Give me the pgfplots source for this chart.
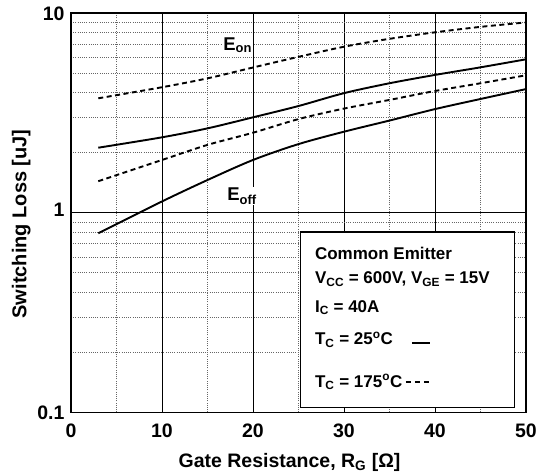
\documentclass[border=0pt]{standalone}
\usepackage{pgfplots}
\pgfplotsset{compat=1.18}
\usepackage{fontspec}
\setmainfont{Liberation Sans}

% switching loss vs gate resistance
\pgfplotstableread{
x   y
3   2.12
10  2.39
15  2.65
20  3.01
25  3.43
30  3.98
35  4.46
40  4.91
45  5.36
50  5.88
}\eonlow
\pgfplotstableread{
x   y
3   3.75
10  4.26
15  4.72
20  5.35
25  6.05
30  6.80
35  7.45
40  8.03
45  8.55
50  9.00
}\eonhigh
\pgfplotstableread{
x   y
3   0.79
10  1.14
15  1.46
20  1.84
25  2.21
30  2.55
35  2.90
40  3.31
45  3.72
50  4.17
}\eofflow
\pgfplotstableread{
x   y
3   1.44
10  1.84
15  2.19
20  2.52
25  2.95
30  3.33
35  3.68
40  4.08
45  4.46
50  4.89
}\eoffhigh

\begin{document}
\begin{tikzpicture}
\useasboundingbox (0,0) rectangle (547pt,474pt);
\begin{axis}[
    at={(71pt,61.7pt)}, anchor=south west,
    width=455pt, height=399pt, scale only axis,
    xmin=0, xmax=50, ymin=0.1, ymax=10,
    ymode=log,
    xtick={0,10,20,30,40,50},
    xticklabels={0,10,20,30,40,50},
    minor xtick={5,15,25,35,45},
    ytick={0.1,1,10}, yticklabels={0.1,\raisebox{6pt}{1},10},
    minor ytick={0.2,0.3,0.4,0.5,0.6,0.7,0.8,0.9,2,3,4,5,6,7,8,9},
    grid=both,
    major grid style={black, line width=0.9pt},
    minor grid style={black!60, line width=0.8pt, dash pattern=on 1pt off 1.2pt},
    axis line style={line width=1.6pt},
    major tick length=0pt, minor tick length=0pt,
    tick label style={font=\bfseries\fontsize{19.5}{21}\selectfont},
    yticklabel style={xshift=-3pt},
    xticklabel style={yshift=-8pt},
    xlabel={Gate Resistance, R\textsubscript{G} [Ω]},
    xlabel style={font=\bfseries\fontsize{19.5}{22}\selectfont, xshift=-9pt, yshift=-9pt},
    ylabel={Switching Loss [uJ]},
    ylabel style={font=\bfseries\fontsize{20}{22}\selectfont, at={(ticklabel cs:0.472)}},
    clip=false,
]
\addplot[black, no marks, smooth, line width=1.9pt] table {\eonlow};
\addplot[black, no marks, smooth, line width=1.9pt, dash pattern=on 5pt off 3.5pt] table {\eonhigh};
\addplot[black, no marks, smooth, line width=1.9pt] table {\eofflow};
\addplot[black, no marks, smooth, line width=1.9pt, dash pattern=on 5pt off 3.5pt] table {\eoffhigh};

\node[anchor=base west, fill=white, inner sep=1pt, font=\bfseries\fontsize{18.5}{20}\selectfont]
  at (rel axis cs:0.332,0.908) {E\textsubscript{on}};
\node[anchor=base west, fill=white, inner sep=1pt, font=\bfseries\fontsize{18.5}{20}\selectfont]
  at (rel axis cs:0.341,0.530) {E\textsubscript{off}};

\draw[fill=white, line width=1.2pt] (rel axis cs:0.505,0.013) rectangle (rel axis cs:0.974,0.452);
\begin{scope}[every node/.style={anchor=base west, inner sep=0pt, font=\bfseries\fontsize{17}{20}\selectfont}]
\node at (rel axis cs:0.536,0.382) {Common Emitter};
\node at (rel axis cs:0.536,0.323) {V\textsubscript{CC} = 600V, V\textsubscript{GE} = 15V};
\node at (rel axis cs:0.536,0.251) {I\textsubscript{C} = 40A};
\node at (rel axis cs:0.536,0.169) {T\textsubscript{C} = 25\textsuperscript{o}C};
\node at (rel axis cs:0.536,0.063) {T\textsubscript{C} = 175\textsuperscript{o}C};
\end{scope}
\draw[line width=1.5pt] (rel axis cs:0.749,0.174) -- (rel axis cs:0.789,0.174);
\draw[line width=1.5pt, dash pattern=on 5pt off 4pt] (rel axis cs:0.736,0.076) -- (rel axis cs:0.789,0.076);
\end{axis}
\end{tikzpicture}
\end{document}
